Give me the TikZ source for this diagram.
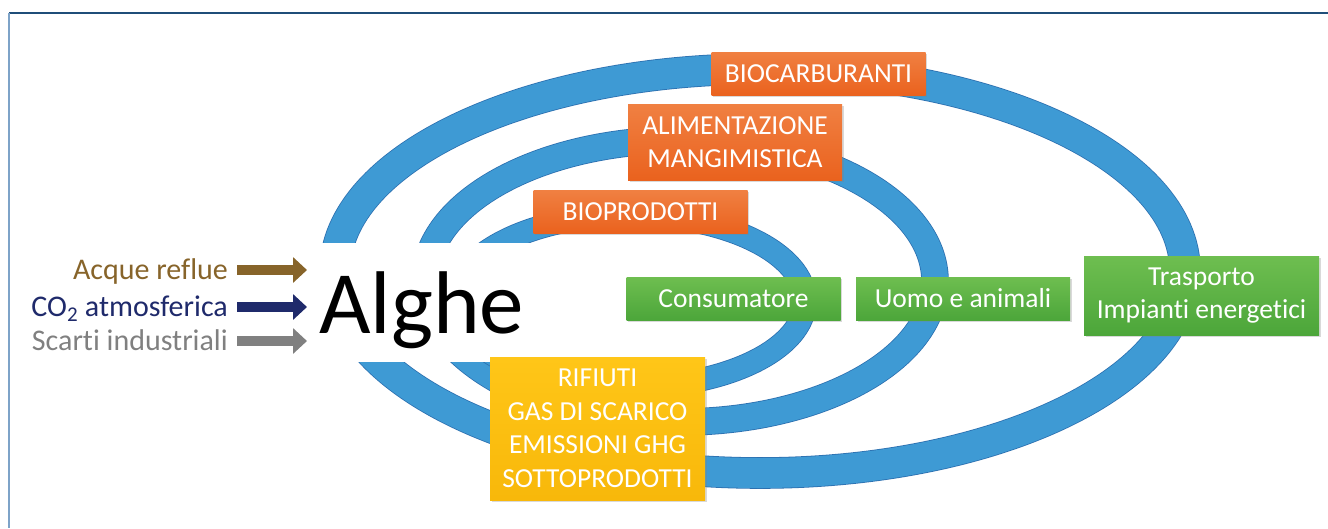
\documentclass[tikz,border=0pt]{standalone}
\usepackage{fontspec}
\setmainfont{Carlito}[Ligatures=NoCommon]
\usetikzlibrary{arrows.meta}
\usetikzlibrary{shadows}

\definecolor{ringblue}{RGB}{62,154,212}
\definecolor{ringedge}{RGB}{44,112,176}
\definecolor{orangetop}{RGB}{240,128,66}
\definecolor{orangebot}{RGB}{234,98,30}
\definecolor{greentop}{RGB}{110,190,80}
\definecolor{greenbot}{RGB}{76,166,58}
\definecolor{yellowtop}{RGB}{255,198,24}
\definecolor{yellowbot}{RGB}{248,184,10}
\definecolor{acquecol}{RGB}{135,100,42}
\definecolor{co2col}{RGB}{31,42,107}
\definecolor{scarticol}{RGB}{128,128,128}
\definecolor{frametop}{RGB}{31,78,121}
\definecolor{frameleft}{RGB}{126,163,200}

\tikzset{
  box/.style={text=white, align=center, inner sep=0pt,
    minimum width=214pt, minimum height=43pt,
    font=\fontsize{27.5}{33.5}\selectfont,
    drop shadow={opacity=0.3, shadow xshift=1.5pt, shadow yshift=-2pt}},
  orangebox/.style={box, top color=orangetop, bottom color=orangebot},
  greenbox/.style={box, top color=greentop, bottom color=greenbot},
  yellowbox/.style={box, top color=yellowtop, bottom color=yellowbot},
  inputtext/.style={anchor=east, inner sep=0pt, text height=19pt, text depth=0pt,
    font=\fontsize{30}{34}\selectfont},
  inarrow/.style={line width=10pt, -{Triangle[width=25pt, length=14pt]}},
}

\begin{document}
\begin{tikzpicture}[x=1pt, y=-1pt]

\useasboundingbox (0,0) rectangle (1328,528);

% Frame
\draw[frametop, line width=1.5pt] (9,13) -- (1328,13);
\draw[frameleft, line width=2pt] (9,13) -- (9,528);

% Rings (outer, middle, inner)
\foreach \cx/\cy/\rx/\ry/\w in {760/271/425/202/30, 680/281/255/141/26, 630/301/175/86/22} {
  \pgfmathsetmacro{\we}{\w+1.6}
  \draw[ringedge, line width=\we pt] (\cx,\cy) ellipse [x radius=\rx, y radius=\ry];
  \draw[ringblue, line width=\w pt] (\cx,\cy) ellipse [x radius=\rx, y radius=\ry];
}

% Opening of the rings at the left
\fill[white] (298,243) rectangle (600,362);

% Alghe
\node[anchor=base west, inner sep=0pt, font=\fontsize{89}{96}\selectfont] (alghe) at (319,333) {Alghe};

% Inputs
\node[inputtext, acquecol] (acque) at (228,270) {Acque reflue};
\node[inputtext, co2col] (co2) at (228,307) {CO\textsubscript{2} atmosferica};
\node[inputtext, scarticol] (scarti) at (228,341) {Scarti industriali};

\draw[inarrow, acquecol] ([xshift=9pt]acque.east) -- ([xshift=-12pt]alghe.west |- acque.east);
\draw[inarrow, co2col] ([xshift=9pt]co2.east) -- ([xshift=-12pt]alghe.west |- co2.east);
\draw[inarrow, scarticol] ([xshift=9pt]scarti.east) -- ([xshift=-12pt]alghe.west |- scarti.east);

% Products
\node[orangebox] (biocarb) at (818.5,73.5) {BIOCARBURANTI};
\node[orangebox, minimum height=76pt] (alim) at (735,142) {ALIMENTAZIONE\\MANGIMISTICA};
\node[orangebox] (bioprod) at (640.5,211.5) {BIOPRODOTTI};

% Users
\node[greenbox] (consum) at (733.5,298.5) {Consumatore};
\node[greenbox] (uomo) at (963,298.5) {Uomo e animali};
\node[greenbox, minimum width=235pt, minimum height=79pt] (trasp) at (1201.5,295.5) {Trasporto\\Impianti energetici};

% Waste
\node[yellowbox, minimum width=215pt, minimum height=143pt] (rifiuti) at (597.5,428.5)
  {RIFIUTI\\GAS DI SCARICO\\EMISSIONI GHG\\SOTTOPRODOTTI};

\end{tikzpicture}
\end{document}
